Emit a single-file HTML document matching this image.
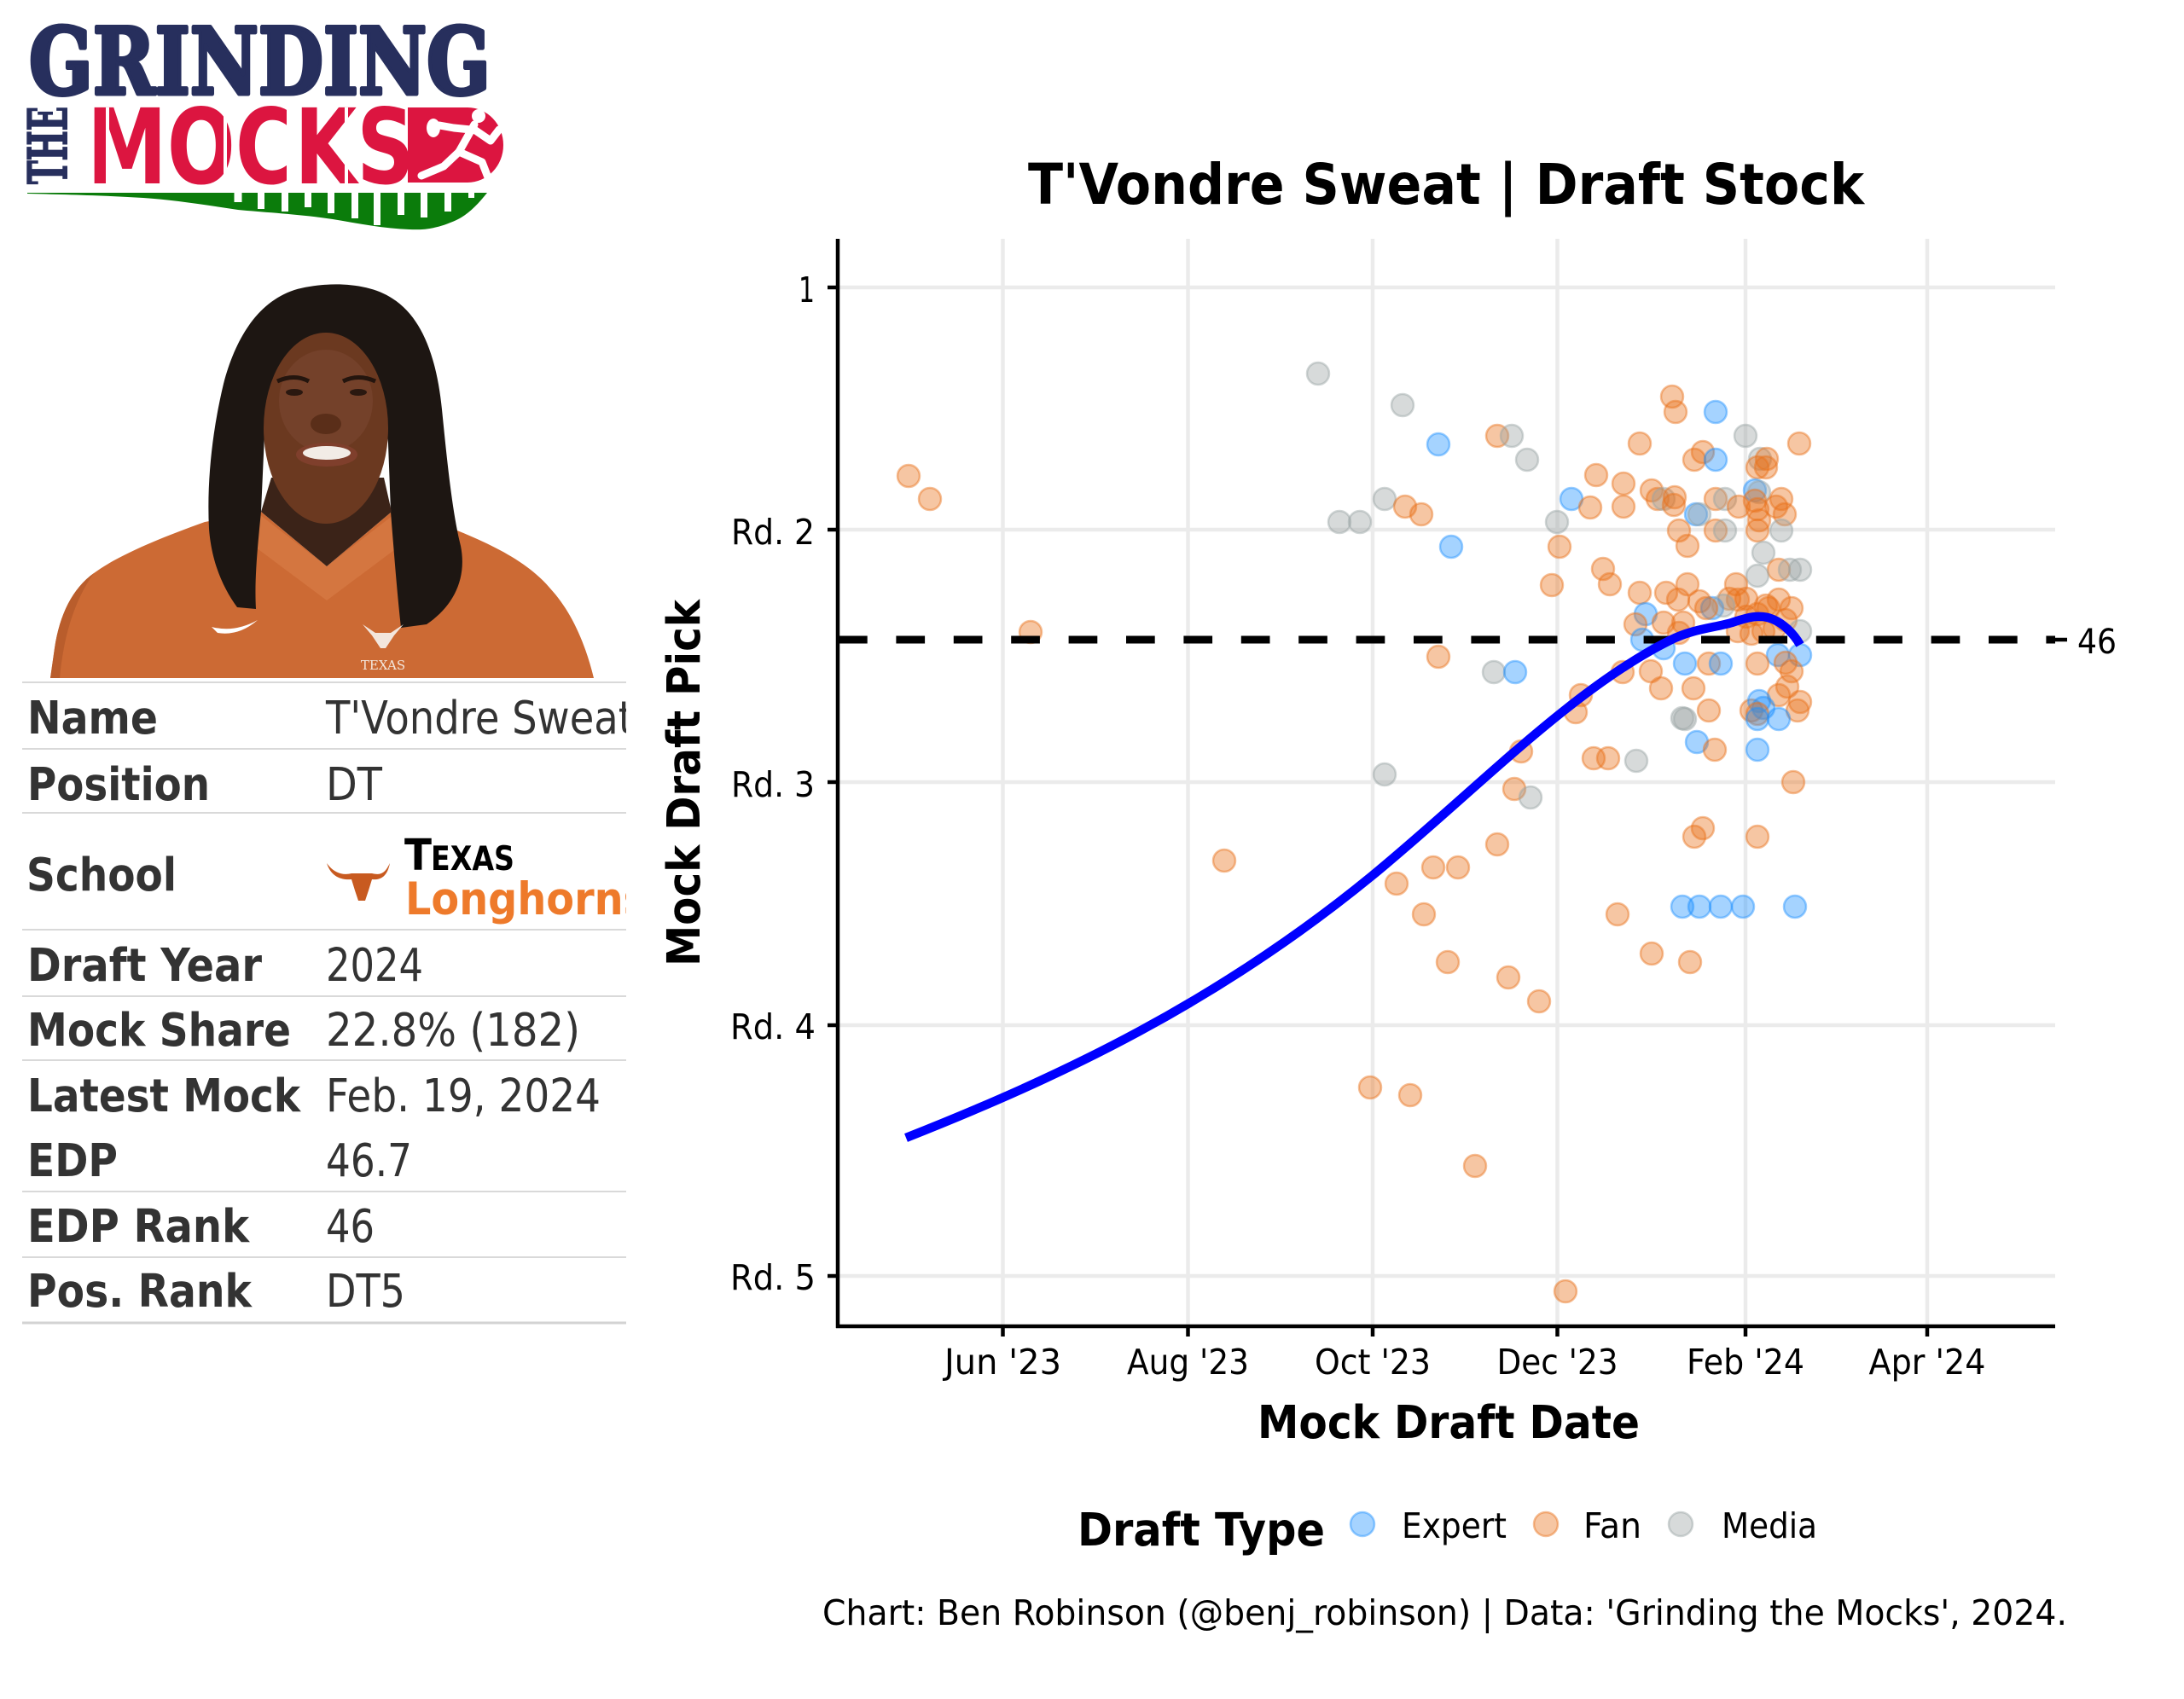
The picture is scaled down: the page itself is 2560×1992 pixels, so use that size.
<!DOCTYPE html>
<html>
<head>
<meta charset="utf-8">
<style>
html,body{margin:0;padding:0;background:#ffffff;}
svg{display:block;}
.e{fill:#1E90FF;stroke:#1E90FF;fill-opacity:0.4;stroke-opacity:0.45;stroke-width:2.5;}
.f{fill:#E8701A;stroke:#E8701A;fill-opacity:0.4;stroke-opacity:0.45;stroke-width:2.5;}
.m{fill:#9AA3A3;stroke:#9AA3A3;fill-opacity:0.4;stroke-opacity:0.45;stroke-width:2.5;}
.t{font-family:"DejaVu Sans","Liberation Sans",sans-serif;}
.lab{font-family:"DejaVu Sans","Liberation Sans",sans-serif;font-weight:bold;font-size:53.5px;fill:#333333;}
.val{font-family:"DejaVu Sans","Liberation Sans",sans-serif;font-size:53.5px;fill:#333333;}
</style>
</head>
<body>
<svg width="2560" height="1992" viewBox="0 0 2560 1992" xmlns="http://www.w3.org/2000/svg">
<rect x="0" y="0" width="2560" height="1992" fill="#ffffff"/>
<defs>
<clipPath id="tbl"><rect x="0" y="790" width="734" height="780"/></clipPath>
</defs>

<!-- ================= LOGO ================= -->
<text x="34" y="110" font-family="'DejaVu Serif','Liberation Serif',serif" font-weight="bold" font-size="108" textLength="541" lengthAdjust="spacingAndGlyphs" fill="#272f5d" stroke="#272f5d" stroke-width="5" stroke-linejoin="round">GRINDING</text>
<text transform="translate(78,216) rotate(-90)" font-family="'DejaVu Serif','Liberation Serif',serif" font-weight="bold" font-size="63" textLength="91" lengthAdjust="spacingAndGlyphs" fill="#272f5d" stroke="#272f5d" stroke-width="2">THE</text>
<text x="102" y="215" font-family="'DejaVu Sans','Liberation Sans',sans-serif" font-weight="bold" font-size="122" textLength="384" lengthAdjust="spacingAndGlyphs" fill="#dc1540">MOCKS</text>
<g fill="#ffffff">
<rect x="124" y="126" width="4" height="90"/>
<rect x="188" y="126" width="4" height="90"/>
<rect x="262" y="126" width="4" height="90"/>
<rect x="336" y="126" width="4" height="90"/>
<rect x="404" y="126" width="4" height="90"/>
</g>
<path d="M478,126 H548 A42,44 0 0 1 548,214 H478 Z" fill="#dc1540"/>
<g stroke="#ffffff" stroke-width="9" stroke-linecap="round" stroke-linejoin="round" fill="none">
<path d="M556,146 L538,178"/>
<path d="M552,152 L532,150 L515,147"/>
<path d="M556,152 L575,165 L585,152"/>
<path d="M538,178 L520,195 L494,206"/>
<path d="M538,178 L565,190 L572,208 L585,209"/>
</g>
<circle cx="561" cy="136" r="8" fill="#ffffff"/>
<ellipse cx="508" cy="150" rx="8" ry="11" fill="#ffffff"/>
<path d="M32,226 L571,226 C560,240 548,252 535,258 C515,267 500,270 480,269 C450,268 420,262 390,257 C350,251 310,249 279,246 C240,240 200,234 168,232 C120,229 70,228 32,227 Z" fill="#0b7c0b"/>
<g fill="#ffffff">
<rect x="274.5" y="225" width="9" height="12"/>
<rect x="302" y="225" width="8" height="20"/>
<rect x="330" y="225" width="8" height="23"/>
<rect x="357" y="225" width="8" height="18"/>
<rect x="384" y="225" width="8" height="25"/>
<rect x="412" y="225" width="8" height="31"/>
<rect x="438" y="225" width="8" height="39"/>
<rect x="466" y="225" width="8" height="27"/>
<rect x="493" y="225" width="8" height="30"/>
<rect x="521" y="225" width="8" height="23"/>
<rect x="549" y="225" width="7" height="7"/>
</g>

<!-- ================= PHOTO ================= -->
<path d="M59,795 L64,760 C70,720 85,690 110,672 C140,650 190,630 240,612 L306,600 L383,664 L459,600 L536,622 C580,640 620,660 645,690 C668,715 685,750 696,795 Z" fill="#cc6a34"/>
<path d="M110,672 C90,700 75,740 70,795 L59,795 L64,760 C70,720 85,690 110,672 Z" fill="#b95d2c"/>
<path d="M300,600 L383,664 L466,600 L474,636 L383,704 L292,636 Z" fill="#d47640"/>
<path d="M278,712 C262,690 248,660 245,620 C242,560 250,500 262,450 C275,400 300,355 345,340 C380,330 430,330 460,350 C495,372 512,420 518,480 C524,540 530,600 540,640 C548,680 530,712 500,732 L470,736 C465,690 462,650 458,600 L455,520 C450,450 420,402 383,398 C345,402 318,440 310,510 L306,600 C302,640 298,680 300,714 Z" fill="#1d1612"/>
<path d="M318,560 L450,560 L459,600 L383,664 L306,600 Z" fill="#3b2318"/>
<ellipse cx="382" cy="502" rx="73" ry="112" fill="#6b3920"/>
<ellipse cx="382" cy="470" rx="55" ry="60" fill="#74412a"/>
<path d="M325,447 Q345,438 362,447" stroke="#24150e" stroke-width="5" fill="none"/>
<path d="M402,447 Q420,438 440,447" stroke="#24150e" stroke-width="5" fill="none"/>
<ellipse cx="345" cy="460" rx="10" ry="4" fill="#2a1810"/>
<ellipse cx="420" cy="460" rx="10" ry="4" fill="#2a1810"/>
<ellipse cx="382" cy="497" rx="18" ry="12" fill="#5a2e19"/>
<ellipse cx="383" cy="533" rx="36" ry="14" fill="#7f3f2c"/>
<ellipse cx="383" cy="531" rx="28" ry="8" fill="#f2ece6"/>
<path d="M248,735 Q275,742 302,727 Q280,746 255,742 Z" fill="#ffffff"/>
<path d="M425,732 L440,742 L458,742 L473,732 L462,745 L452,760 L446,760 L436,745 Z" fill="#f3e6dc"/>
<text x="449" y="785" text-anchor="middle" font-family="'DejaVu Serif',serif" font-size="15" fill="#f3e6dc">TEXAS</text>

<!-- ================= TABLE ================= -->
<g stroke="#d9d9d9" stroke-width="2">
<line x1="26" y1="800" x2="734" y2="800"/>
<line x1="26" y1="878" x2="734" y2="878"/>
<line x1="26" y1="953" x2="734" y2="953"/>
<line x1="26" y1="1090" x2="734" y2="1090"/>
<line x1="26" y1="1168" x2="734" y2="1168"/>
<line x1="26" y1="1243" x2="734" y2="1243"/>
<line x1="26" y1="1397" x2="734" y2="1397"/>
<line x1="26" y1="1474" x2="734" y2="1474"/>
</g>
<line x1="26" y1="1551" x2="734" y2="1551" stroke="#d3d3d3" stroke-width="3"/>
<g clip-path="url(#tbl)">
<text class="lab" x="32" y="860" textLength="153" lengthAdjust="spacingAndGlyphs">Name</text>
<text class="lab" x="32" y="938" textLength="214" lengthAdjust="spacingAndGlyphs">Position</text>
<text class="lab" x="31" y="1044" textLength="176" lengthAdjust="spacingAndGlyphs">School</text>
<text class="lab" x="32" y="1150" textLength="275" lengthAdjust="spacingAndGlyphs">Draft Year</text>
<text class="lab" x="32" y="1226" textLength="309" lengthAdjust="spacingAndGlyphs">Mock Share</text>
<text class="lab" x="32" y="1303" textLength="320" lengthAdjust="spacingAndGlyphs">Latest Mock</text>
<text class="lab" x="32" y="1379" textLength="106" lengthAdjust="spacingAndGlyphs">EDP</text>
<text class="lab" x="32" y="1456" textLength="260" lengthAdjust="spacingAndGlyphs">EDP Rank</text>
<text class="lab" x="32" y="1532" textLength="263" lengthAdjust="spacingAndGlyphs">Pos. Rank</text>

<text class="val" x="382" y="860" textLength="361" lengthAdjust="spacingAndGlyphs">T'Vondre Sweat</text>
<text class="val" x="382" y="938" textLength="66" lengthAdjust="spacingAndGlyphs">DT</text>
<text class="val" x="382" y="1150" textLength="114" lengthAdjust="spacingAndGlyphs">2024</text>
<text class="val" x="382" y="1226" textLength="298" lengthAdjust="spacingAndGlyphs">22.8% (182)</text>
<text class="val" x="382" y="1303" textLength="322" lengthAdjust="spacingAndGlyphs">Feb. 19, 2024</text>
<text class="val" x="382" y="1379" textLength="101" lengthAdjust="spacingAndGlyphs">46.7</text>
<text class="val" x="382" y="1456" textLength="57" lengthAdjust="spacingAndGlyphs">46</text>
<text class="val" x="382" y="1532" textLength="93" lengthAdjust="spacingAndGlyphs">DT5</text>

<path d="M383,1012 C390,1022 400,1027 412,1024 L436,1024 C448,1027 452,1022 457,1012 C454,1028 446,1032 436,1031 L432,1044 L428,1056 L420,1056 L416,1044 L412,1031 C400,1032 388,1028 383,1012 Z" fill="#c85a20"/>
<text x="474" y="1020" font-family="'DejaVu Sans','Liberation Sans',sans-serif" font-weight="bold" font-size="51" textLength="32" lengthAdjust="spacingAndGlyphs" fill="#000000">T</text>
<text x="505" y="1020" font-family="'DejaVu Sans','Liberation Sans',sans-serif" font-weight="bold" font-size="39" textLength="98" lengthAdjust="spacingAndGlyphs" fill="#000000">EXAS</text>
<text x="475" y="1072" font-family="'DejaVu Sans','Liberation Sans',sans-serif" font-weight="bold" font-size="52.5" textLength="284" lengthAdjust="spacingAndGlyphs" fill="#ee7a2b">Longhorns</text>
</g>

<!-- ================= CHART ================= -->
<text class="t" x="1205" y="239" font-weight="bold" font-size="66" textLength="980" lengthAdjust="spacingAndGlyphs" fill="#000000">T'Vondre Sweat | Draft Stock</text>

<!-- grid -->
<g stroke="#ebebeb" stroke-width="4.5">
<line x1="982" y1="337" x2="2409" y2="337"/>
<line x1="982" y1="621" x2="2409" y2="621"/>
<line x1="982" y1="917" x2="2409" y2="917"/>
<line x1="982" y1="1202" x2="2409" y2="1202"/>
<line x1="982" y1="1496" x2="2409" y2="1496"/>
<line x1="1175.5" y1="280" x2="1175.5" y2="1555"/>
<line x1="1392.5" y1="280" x2="1392.5" y2="1555"/>
<line x1="1609" y1="280" x2="1609" y2="1555"/>
<line x1="1825.5" y1="280" x2="1825.5" y2="1555"/>
<line x1="2046" y1="280" x2="2046" y2="1555"/>
<line x1="2259" y1="280" x2="2259" y2="1555"/>
</g>

<!-- points -->
<g>
<circle class="f" cx="1065" cy="558" r="13"/>
<circle class="f" cx="1090" cy="585" r="13"/>
<circle class="f" cx="1208" cy="741" r="13"/>
<circle class="f" cx="1435" cy="1009" r="13"/>
<circle class="f" cx="1606" cy="1275" r="13"/>
<circle class="f" cx="1653" cy="1284" r="13"/>
<circle class="f" cx="1637" cy="1036" r="13"/>
<circle class="f" cx="1669" cy="1072" r="13"/>
<circle class="f" cx="1697" cy="1128" r="13"/>
<circle class="f" cx="1768" cy="1146" r="13"/>
<circle class="f" cx="1804" cy="1174" r="13"/>
<circle class="f" cx="1729" cy="1367" r="13"/>
<circle class="f" cx="1835" cy="1514" r="13"/>
<circle class="f" cx="1680" cy="1017" r="13"/>
<circle class="f" cx="1709" cy="1017" r="13"/>
<circle class="f" cx="1755" cy="990" r="13"/>
<circle class="f" cx="1775" cy="925" r="13"/>
<circle class="m" cx="1794" cy="935" r="13"/>
<circle class="f" cx="1783" cy="881" r="13"/>
<circle class="f" cx="1853" cy="815" r="13"/>
<circle class="f" cx="1847" cy="835" r="13"/>
<circle class="m" cx="1751" cy="788" r="13"/>
<circle class="e" cx="1776" cy="788" r="13"/>
<circle class="f" cx="1686" cy="770" r="13"/>
<circle class="m" cx="1623" cy="908" r="13"/>
<circle class="f" cx="1868" cy="889" r="13"/>
<circle class="f" cx="1885" cy="889" r="13"/>
<circle class="m" cx="1918" cy="892" r="13"/>
<circle class="f" cx="1896" cy="1072" r="13"/>
<circle class="f" cx="1936" cy="1118" r="13"/>
<circle class="f" cx="1981" cy="1128" r="13"/>
<circle class="e" cx="1972" cy="1063" r="13"/>
<circle class="e" cx="1992" cy="1063" r="13"/>
<circle class="e" cx="2017" cy="1063" r="13"/>
<circle class="e" cx="2043" cy="1063" r="13"/>
<circle class="e" cx="2104" cy="1063" r="13"/>
<circle class="f" cx="1986" cy="981" r="13"/>
<circle class="f" cx="1996" cy="971" r="13"/>
<circle class="f" cx="2060" cy="981" r="13"/>
<circle class="f" cx="2102" cy="917" r="13"/>
<circle class="e" cx="1989" cy="870" r="13"/>
<circle class="f" cx="2010" cy="879" r="13"/>
<circle class="e" cx="2060" cy="879" r="13"/>
<circle class="m" cx="1545" cy="438" r="13"/>
<circle class="m" cx="1644" cy="475" r="13"/>
<circle class="e" cx="1686" cy="521" r="13"/>
<circle class="m" cx="1623" cy="585" r="13"/>
<circle class="m" cx="1570" cy="612" r="13"/>
<circle class="m" cx="1594" cy="612" r="13"/>
<circle class="f" cx="1647" cy="594" r="13"/>
<circle class="f" cx="1666" cy="603" r="13"/>
<circle class="f" cx="1755" cy="511" r="13"/>
<circle class="m" cx="1772" cy="511" r="13"/>
<circle class="m" cx="1790" cy="539" r="13"/>
<circle class="e" cx="1701" cy="641" r="13"/>
<circle class="m" cx="1825" cy="612" r="13"/>
<circle class="f" cx="1828" cy="641" r="13"/>
<circle class="e" cx="1842" cy="585" r="13"/>
<circle class="f" cx="1864" cy="595" r="13"/>
<circle class="f" cx="1871" cy="557" r="13"/>
<circle class="f" cx="1879" cy="667" r="13"/>
<circle class="f" cx="1819" cy="686" r="13"/>

<circle class="f" cx="1960" cy="465" r="13"/>
<circle class="f" cx="1964" cy="483" r="13"/>
<circle class="e" cx="2011" cy="483" r="13"/>
<circle class="f" cx="1922" cy="520" r="13"/>
<circle class="m" cx="2046" cy="511" r="13"/>
<circle class="f" cx="2109" cy="520" r="13"/>
<circle class="f" cx="1996" cy="530" r="13"/>
<circle class="f" cx="1986" cy="539" r="13"/>
<circle class="e" cx="2011" cy="539" r="13"/>
<circle class="m" cx="2063" cy="538" r="13"/>
<circle class="f" cx="2071" cy="538" r="13"/>
<circle class="f" cx="2060" cy="548" r="13"/>
<circle class="f" cx="2070" cy="548" r="13"/>
<circle class="f" cx="1903" cy="567" r="13"/>
<circle class="f" cx="1903" cy="594" r="13"/>
<circle class="f" cx="1936" cy="575" r="13"/>
<circle class="f" cx="1943" cy="585" r="13"/>
<circle class="m" cx="1950" cy="585" r="13"/>
<circle class="f" cx="1963" cy="583" r="13"/>
<circle class="f" cx="1962" cy="592" r="13"/>
<circle class="f" cx="2011" cy="585" r="13"/>
<circle class="m" cx="2022" cy="585" r="13"/>
<circle class="f" cx="2038" cy="594" r="13"/>
<circle class="e" cx="2057" cy="575" r="13"/>
<circle class="m" cx="2062" cy="577" r="13"/>
<circle class="f" cx="2057" cy="587" r="13"/>
<circle class="f" cx="2060" cy="597" r="13"/>
<circle class="f" cx="2088" cy="585" r="13"/>
<circle class="f" cx="2082" cy="594" r="13"/>
<circle class="f" cx="2092" cy="603" r="13"/>
<circle class="e" cx="1988" cy="603" r="13"/>
<circle class="m" cx="1992" cy="603" r="13"/>
<circle class="f" cx="2062" cy="610" r="13"/>
<circle class="f" cx="2060" cy="622" r="13"/>
<circle class="m" cx="2088" cy="622" r="13"/>
<circle class="f" cx="1968" cy="622" r="13"/>
<circle class="f" cx="2011" cy="622" r="13"/>
<circle class="m" cx="2022" cy="622" r="13"/>
<circle class="f" cx="1978" cy="640" r="13"/>
<circle class="m" cx="2067" cy="648" r="13"/>
<circle class="f" cx="2085" cy="668" r="13"/>
<circle class="m" cx="2098" cy="668" r="13"/>
<circle class="m" cx="2110" cy="668" r="13"/>
<circle class="m" cx="2060" cy="675" r="13"/>

<circle class="f" cx="1887" cy="685" r="13"/>
<circle class="f" cx="1922" cy="695" r="13"/>
<circle class="f" cx="1953" cy="695" r="13"/>
<circle class="f" cx="1978" cy="685" r="13"/>
<circle class="f" cx="1967" cy="703" r="13"/>
<circle class="f" cx="1992" cy="705" r="13"/>
<circle class="f" cx="2035" cy="685" r="13"/>
<circle class="f" cx="2027" cy="702" r="13"/>
<circle class="f" cx="2037" cy="703" r="13"/>
<circle class="f" cx="2047" cy="702" r="13"/>
<circle class="e" cx="2007" cy="713" r="13"/>
<circle class="m" cx="2020" cy="710" r="13"/>
<circle class="f" cx="2000" cy="713" r="13"/>
<circle class="f" cx="2070" cy="710" r="13"/>
<circle class="f" cx="2085" cy="703" r="13"/>
<circle class="f" cx="2100" cy="713" r="13"/>
<circle class="f" cx="2093" cy="727" r="13"/>
<circle class="m" cx="2110" cy="740" r="13"/>
<circle class="e" cx="1929" cy="720" r="13"/>
<circle class="f" cx="1917" cy="732" r="13"/>
<circle class="f" cx="1950" cy="730" r="13"/>
<circle class="f" cx="1973" cy="730" r="13"/>
<circle class="f" cx="1968" cy="742" r="13"/>
<circle class="e" cx="1925" cy="750" r="13"/>
<circle class="e" cx="1950" cy="760" r="13"/>
<circle class="f" cx="2037" cy="740" r="13"/>
<circle class="f" cx="2053" cy="743" r="13"/>
<circle class="f" cx="2067" cy="740" r="13"/>
<circle class="f" cx="2080" cy="737" r="13"/>
<circle class="f" cx="2047" cy="723" r="13"/>
<circle class="f" cx="2060" cy="720" r="13"/>
<circle class="f" cx="2073" cy="713" r="13"/>
<circle class="e" cx="2084" cy="768" r="13"/>
<circle class="e" cx="2110" cy="768" r="13"/>
<circle class="f" cx="2093" cy="777" r="13"/>
<circle class="f" cx="2100" cy="787" r="13"/>
<circle class="f" cx="2095" cy="805" r="13"/>
<circle class="f" cx="2085" cy="815" r="13"/>
<circle class="f" cx="2110" cy="823" r="13"/>
<circle class="f" cx="2107" cy="833" r="13"/>
<circle class="f" cx="2060" cy="778" r="13"/>
<circle class="e" cx="1975" cy="778" r="13"/>
<circle class="f" cx="2003" cy="778" r="13"/>
<circle class="e" cx="2017" cy="778" r="13"/>
<circle class="f" cx="1902" cy="788" r="13"/>
<circle class="f" cx="1935" cy="787" r="13"/>
<circle class="f" cx="1947" cy="807" r="13"/>
<circle class="f" cx="1985" cy="807" r="13"/>
<circle class="f" cx="2003" cy="833" r="13"/>
<circle class="m" cx="1972" cy="842" r="13"/>
<circle class="m" cx="1975" cy="843" r="13"/>
<circle class="f" cx="2053" cy="833" r="13"/>
<circle class="e" cx="2062" cy="822" r="13"/>
<circle class="e" cx="2067" cy="830" r="13"/>
<circle class="f" cx="2060" cy="837" r="13"/>
<circle class="e" cx="2060" cy="843" r="13"/>
<circle class="e" cx="2085" cy="843" r="13"/>
</g>

<!-- dashed EDP line -->
<line x1="983" y1="750" x2="2409" y2="750" stroke="#000000" stroke-width="9" stroke-dasharray="33.7 33.7"/>

<!-- smooth line -->
<path fill="none" stroke="#0000ff" stroke-width="10.5" stroke-linejoin="round" stroke-linecap="butt"
d="M1062,1334 C1244,1262 1426,1176 1608,1027 C1724,932 1841,809 1957,751 C1985,737 2010,736 2030,730 C2045,725 2062,719 2078,726 C2090,731 2102,742 2110,756"/>

<!-- axes -->
<g stroke="#000000" stroke-width="4.5">
<line x1="982" y1="280" x2="982" y2="1557"/>
<line x1="980" y1="1555" x2="2409" y2="1555"/>
<line x1="970" y1="337" x2="982" y2="337"/>
<line x1="970" y1="621" x2="982" y2="621"/>
<line x1="970" y1="917" x2="982" y2="917"/>
<line x1="970" y1="1202" x2="982" y2="1202"/>
<line x1="970" y1="1496" x2="982" y2="1496"/>
<line x1="1175.5" y1="1555" x2="1175.5" y2="1567"/>
<line x1="1392.5" y1="1555" x2="1392.5" y2="1567"/>
<line x1="1609" y1="1555" x2="1609" y2="1567"/>
<line x1="1825.5" y1="1555" x2="1825.5" y2="1567"/>
<line x1="2046" y1="1555" x2="2046" y2="1567"/>
<line x1="2259" y1="1555" x2="2259" y2="1567"/>
<line x1="2409" y1="750" x2="2423" y2="750"/>
</g>

<!-- y tick labels -->
<g class="t" font-size="41" fill="#000000" text-anchor="end">
<text x="955" y="354" textLength="19" lengthAdjust="spacingAndGlyphs">1</text>
<text x="955" y="638" textLength="98" lengthAdjust="spacingAndGlyphs">Rd. 2</text>
<text x="955" y="934" textLength="98" lengthAdjust="spacingAndGlyphs">Rd. 3</text>
<text x="956" y="1218" textLength="100" lengthAdjust="spacingAndGlyphs">Rd. 4</text>
<text x="956" y="1512" textLength="100" lengthAdjust="spacingAndGlyphs">Rd. 5</text>
</g>
<text class="t" x="2435" y="766" font-size="40" textLength="46" lengthAdjust="spacingAndGlyphs" fill="#000000">46</text>

<!-- x tick labels -->
<g class="t" font-size="41" fill="#000000" text-anchor="middle">
<text x="1175.5" y="1611" textLength="137" lengthAdjust="spacingAndGlyphs">Jun '23</text>
<text x="1392.5" y="1611" textLength="143" lengthAdjust="spacingAndGlyphs">Aug '23</text>
<text x="1609" y="1611" textLength="136" lengthAdjust="spacingAndGlyphs">Oct '23</text>
<text x="1825.5" y="1611" textLength="142" lengthAdjust="spacingAndGlyphs">Dec '23</text>
<text x="2046" y="1611" textLength="138" lengthAdjust="spacingAndGlyphs">Feb '24</text>
<text x="2259" y="1611" textLength="137" lengthAdjust="spacingAndGlyphs">Apr '24</text>
</g>

<!-- axis titles -->
<text class="t" x="1474" y="1686" font-weight="bold" font-size="53.5" textLength="448" lengthAdjust="spacingAndGlyphs" fill="#000000">Mock Draft Date</text>
<text class="t" transform="translate(820,918) rotate(-90)" text-anchor="middle" font-weight="bold" font-size="53.5" textLength="430" lengthAdjust="spacingAndGlyphs" fill="#000000">Mock Draft Pick</text>

<!-- legend -->
<text class="t" x="1263" y="1812" font-weight="bold" font-size="53.5" textLength="290" lengthAdjust="spacingAndGlyphs" fill="#000000">Draft Type</text>
<circle class="e" cx="1597" cy="1787" r="14"/>
<text class="t" x="1643" y="1803" font-size="41" textLength="123" lengthAdjust="spacingAndGlyphs" fill="#000000">Expert</text>
<circle class="f" cx="1812" cy="1787" r="14"/>
<text class="t" x="1856" y="1803" font-size="41" textLength="68" lengthAdjust="spacingAndGlyphs" fill="#000000">Fan</text>
<circle class="m" cx="1970" cy="1787" r="14"/>
<text class="t" x="2018" y="1803" font-size="41" textLength="112" lengthAdjust="spacingAndGlyphs" fill="#000000">Media</text>

<!-- caption -->
<text class="t" x="964" y="1905" font-size="41" textLength="1459" lengthAdjust="spacingAndGlyphs" fill="#000000">Chart: Ben Robinson (@benj_robinson) | Data: 'Grinding the Mocks', 2024.</text>
</svg>
</body>
</html>
